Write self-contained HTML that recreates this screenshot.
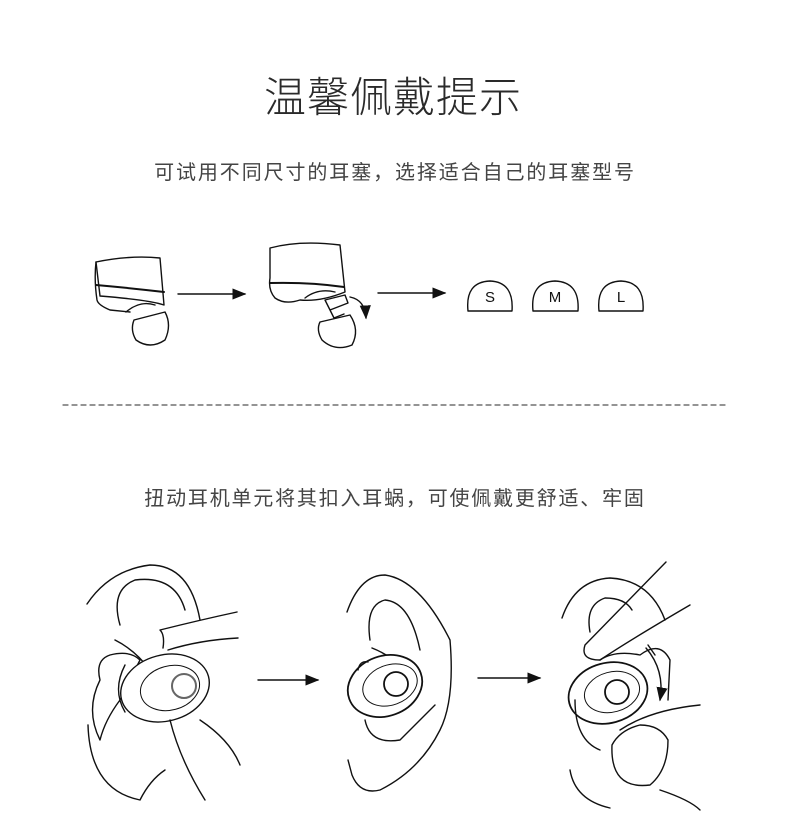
<!DOCTYPE html>
<html><head><meta charset="utf-8"><style>
html,body{margin:0;padding:0;background:#fff;}
body{width:790px;height:816px;position:relative;overflow:hidden;font-family:"Liberation Sans","Noto Sans CJK SC",sans-serif;}
.t{position:absolute;left:0;width:790px;text-align:center;color:#333;white-space:nowrap;}
</style></head><body>
<div class="t" style="top:64px;font-size:42px;font-weight:300;color:#2a2a2a;left:-2px;letter-spacing:1px;">温馨佩戴提示</div>
<div class="t" style="top:156px;font-size:20px;color:#444;left:0px;letter-spacing:1.9px;">可试用不同尺寸的耳塞，选择适合自己的耳塞型号</div>
<div class="t" style="top:482px;font-size:20px;color:#444;left:0px;letter-spacing:1.8px;">扭动耳机单元将其扣入耳蜗，可使佩戴更舒适、牢固</div>
<svg width="790" height="816" style="position:absolute;left:0;top:0" fill="none" stroke="#111" stroke-width="1.4" stroke-linecap="round" stroke-linejoin="round">
<defs><marker id="a" markerWidth="10" markerHeight="8" refX="9" refY="4" orient="auto"><path d="M0,0 L10,4 L0,8z" fill="#111" stroke="none"/></marker></defs>
<!-- earbud 1 -->
<path d="M96,262 Q130,255 160,258 L164,305 Q150,300 100,296 Z"/>
<path d="M96,262 Q94,280 97,300 Q98,305 110,310 L130,312"/>
<path d="M96,285 Q130,288 164,292" stroke-width="2"/>
<path d="M126,312 Q140,300 155,305"/>
<path d="M134,320 L165,312 Q172,325 165,340 Q150,350 136,340 Q130,330 134,320Z"/>
<!-- earbud 2 -->
<path d="M270,248 Q300,240 340,245 L345,292 Q320,302 300,300 Q285,305 275,298 Q268,290 270,278 Z"/>
<path d="M270,283 Q310,282 344,287" stroke-width="2"/>
<path d="M305,298 Q318,288 335,292"/>
<path d="M325,300 L345,295 L348,303 L330,310 Z M330,310 L334,318 L344,314"/>
<path d="M320,322 L350,315 Q360,330 352,345 Q335,352 322,340 Q316,330 320,322Z"/>
<path d="M350,297 Q365,300 366,318" marker-end="url(#a)"/>
<!-- arrows top -->
<line x1="178" y1="294" x2="245" y2="294" marker-end="url(#a)"/>
<line x1="378" y1="293" x2="445" y2="293" marker-end="url(#a)"/>
<!-- caps -->
<path d="M468,311 Q465,282 490,281 Q514,282 512,311 Z"/>
<path d="M533,311 Q530,282 555,281 Q580,282 578,311 Z"/>
<path d="M599,311 Q596,282 621,281 Q645,282 643,311 Z"/>
<g fill="#111" stroke="none" font-size="15" font-family="Liberation Sans,sans-serif" text-anchor="middle"><text x="490" y="302">S</text><text x="555" y="302">M</text><text x="621" y="302">L</text></g>
<line x1="63" y1="405" x2="725" y2="405" stroke="#555" stroke-width="1.2" stroke-dasharray="5,4"/>
<!-- ear 1 -->
<path d="M87,604 Q110,570 150,565 Q190,565 200,620"/>
<path d="M120,625 Q110,590 135,580 Q175,575 185,610"/>
<path d="M115,640 Q135,650 150,670"/>
<path d="M163,648 Q165,635 160,630 Q200,620 237,612 M168,650 Q200,640 238,638"/>
<path d="M100,680 Q95,660 110,655 Q130,650 140,660 L120,700 Q105,720 100,740 Q85,710 100,680"/>
<ellipse cx="165" cy="688" rx="45" ry="33" transform="rotate(-15 165 688)" fill="#fff"/>
<ellipse cx="170" cy="688" rx="30" ry="22" transform="rotate(-15 170 688)" stroke-width="1"/>
<circle cx="184" cy="686" r="12" stroke="#666" stroke-width="2"/>
<path d="M125,665 Q112,690 125,712"/>
<path d="M88,725 Q90,790 140,800 Q150,780 165,770"/>
<path d="M170,720 Q180,760 205,800 M200,720 Q230,740 240,765"/>
<!-- arrow -->
<line x1="258" y1="680" x2="318" y2="680" marker-end="url(#a)"/>
<!-- ear 2 -->
<path d="M347,612 Q360,575 385,575 Q420,580 450,640 Q455,700 440,730 Q420,770 380,790 Q360,795 352,775 L348,760"/>
<path d="M370,640 Q365,605 385,600 Q410,602 420,650"/>
<path d="M372,648 Q390,655 405,670"/>
<path d="M365,720 Q370,745 400,740 Q420,720 435,705"/>
<ellipse cx="385" cy="686" rx="38" ry="30" transform="rotate(-20 385 686)" fill="#fff" stroke-width="1.8"/>
<ellipse cx="390" cy="685" rx="28" ry="20" transform="rotate(-20 390 685)" stroke-width="1"/>
<circle cx="396" cy="684" r="12" stroke-width="1.8"/>
<path d="M358,670 Q360,660 368,662"/>
<!-- arrow -->
<line x1="478" y1="678" x2="540" y2="678" marker-end="url(#a)"/>
<!-- ear 3 -->
<path d="M562,618 Q575,580 610,578 Q650,580 665,620"/>
<path d="M590,632 Q585,605 605,598 Q625,598 632,610"/>
<path d="M666,562 L585,645 Q580,660 600,660 Q630,640 690,605"/>
<path d="M600,660 Q615,650 640,655 Q660,640 670,660 L668,700"/>
<path d="M646,648 Q665,670 660,700" marker-end="url(#a)"/>
<path d="M655,655 L648,645"/>
<ellipse cx="608" cy="693" rx="40" ry="30" transform="rotate(-15 608 693)" fill="#fff" stroke-width="1.8"/>
<ellipse cx="612" cy="692" rx="28" ry="20" transform="rotate(-15 612 692)" stroke-width="1"/>
<circle cx="617" cy="692" r="12" stroke-width="1.8"/>
<path d="M575,700 Q575,740 600,750"/>
<path d="M620,730 Q650,710 700,705 M612,745 Q610,790 650,785 Q668,770 668,740 Q660,725 640,725 Q620,730 612,745"/>
<path d="M570,770 Q575,800 610,808 M660,790 Q690,800 700,810"/>
</svg>
</body></html>
